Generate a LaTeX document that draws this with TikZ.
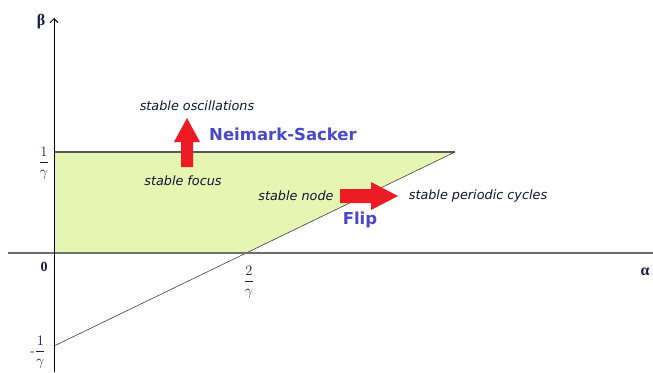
\documentclass[tikz,border=0pt]{standalone}
\usepackage{fontspec}
\usepackage{amsmath}
\usetikzlibrary{arrows.meta}
\newfontfamily\labelfont{DejaVu Sans}
\newfontfamily\axisfont{Liberation Serif}
\definecolor{regiongreen}{RGB}{230,246,178}
\definecolor{bifblue}{RGB}{72,72,204}
\definecolor{arrowred}{RGB}{237,28,36}
\definecolor{axisgray}{RGB}{110,110,110}
\definecolor{labelnavy}{RGB}{25,25,70}
\begin{document}
\begin{tikzpicture}[x=1pt,y=-1pt,
  regime/.style={font=\labelfont\itshape\fontsize{12.8}{14}\selectfont, text=labelnavy!70!black, inner sep=0pt},
  bif/.style={font=\labelfont\bfseries\fontsize{16.5}{18}\selectfont, text=bifblue, inner sep=0pt},
  ticklab/.style={text=labelnavy, inner sep=0pt, font=\fontsize{14}{16}\selectfont},
  axislab/.style={text=labelnavy, inner sep=0pt, font=\axisfont\bfseries\fontsize{16}{18}\selectfont},
  blockarrow/.style={fill=arrowred, draw=none}]
\useasboundingbox (0,0) rectangle (653,372);

% stability region
\coordinate (O) at (54,253);
\coordinate (T) at (54,152);
\coordinate (C) at (455,152);
\coordinate (Z) at (247,253);
\coordinate (B) at (54,346);
\fill[regiongreen] (T) -- (C) -- (Z) -- (O) -- cycle;

% boundary lines
\draw[axisgray!80!black, line width=1.2pt] (T) -- (C);
\draw[black!75, line width=0.6pt] (B) -- (C);

% axes
\coordinate (xl) at (8,253);
\coordinate (xr) at (653,253);
\coordinate (yb) at (54,372);
\coordinate (yt) at (54,18);
\draw[axisgray, line width=1.4pt] (xl) -- (xr);
\draw[black, line width=0.9pt, -{Straight Barb[length=4pt,width=8pt]}] (yb) -- (yt);

% axis labels and ticks
\node[axislab] (beta) at (41,22) {β};
\node[axislab] (alpha) at (645,272) {α};
\node[axislab, font=\axisfont\bfseries\fontsize{14}{16}\selectfont] (zero) at (44,267) {0};
\node[ticklab] (oneg) at (44,163) {$\dfrac{1}{\gamma}$};
\node[ticklab] (twog) at (249,282) {$\dfrac{2}{\gamma}$};
\node[ticklab] (moneg) at (38,352) {$\text{-}\dfrac{1}{\gamma}$};

% regime labels
\node[regime] (osc) at (197,106) {stable oscillations};
\node[regime] (focus) at (183,181) {stable focus};
\node[regime] (node) at (296,196) {stable node};
\node[regime] (cycles) at (478,196) {stable periodic cycles};

% bifurcation names
\node[bif] (ns) at (283,134) {Neimark-Sacker};
\node[bif] (flip) at (360,220) {Flip};

% block arrows
\coordinate (upbase) at (187,167);
\fill[blockarrow] (upbase) ++(-6,0) -- ++(0,-25) -- ++(-7,0) -- (187,118) -- (200,142) -- ++(-7,0) -- ++(0,25) -- cycle;
\coordinate (rtbase) at (340,196);
\fill[blockarrow] (rtbase) ++(0,-7) -- ++(31,0) -- ++(0,-7) -- (398,196) -- (371,210) -- ++(0,-7) -- ++(-31,0) -- cycle;
\end{tikzpicture}
\end{document}
